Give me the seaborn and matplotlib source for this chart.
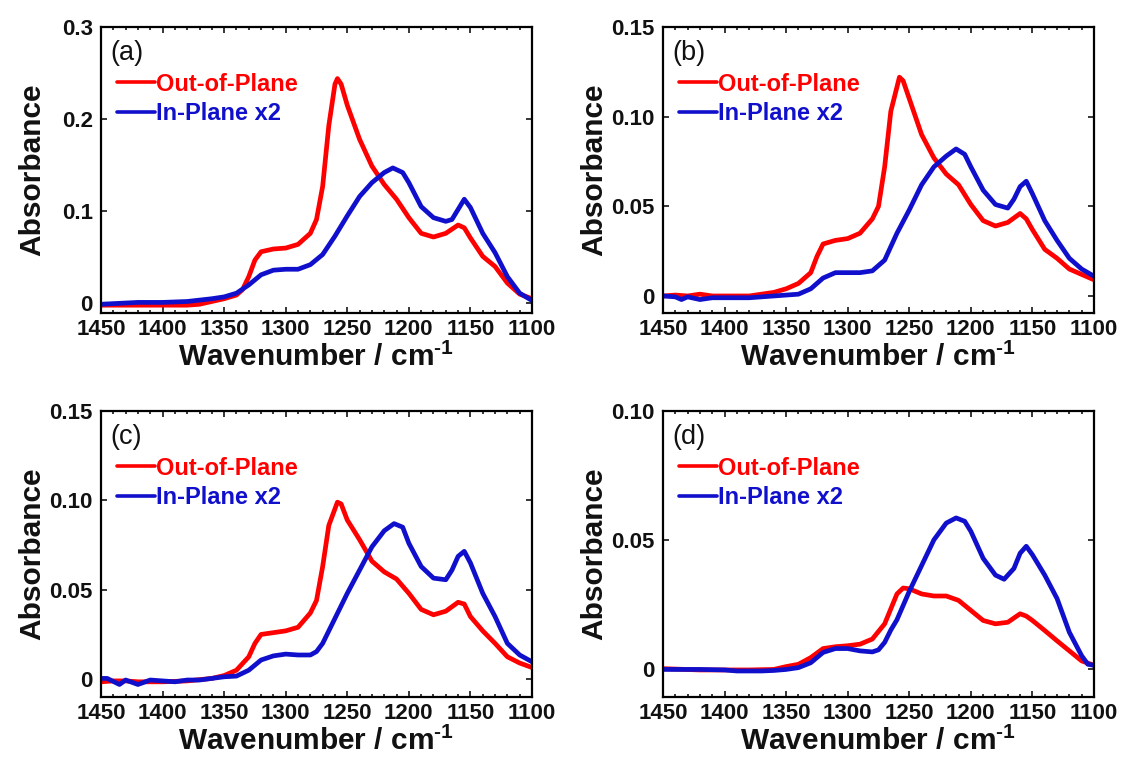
import matplotlib
matplotlib.use("Agg")
import matplotlib.pyplot as plt
from matplotlib.ticker import MultipleLocator
import pandas as pd
import seaborn as sns


# (a) out-of-plane / in-plane x2
wn_a_out = [1450, 1420, 1400, 1380, 1370, 1360, 1350, 1340, 1335, 1330, 1325, 1320, 1310, 1300, 1290, 1280,
            1275, 1270, 1265, 1260, 1258, 1255, 1250, 1240, 1230, 1220, 1210, 1200, 1190, 1180, 1170, 1160,
            1155, 1150, 1140, 1130, 1120, 1110, 1100]
abs_a_out = [-0.002, -0.002, -0.002, -0.002, -0.001, 0.002, 0.005, 0.009, 0.015, 0.029, 0.047, 0.056, 0.059,
             0.060, 0.064, 0.076, 0.091, 0.127, 0.193, 0.238, 0.244, 0.238, 0.215, 0.178, 0.149, 0.129, 0.113,
             0.093, 0.076, 0.072, 0.076, 0.085, 0.082, 0.071, 0.051, 0.040, 0.022, 0.010, 0.005]
wn_a_in = [1450, 1420, 1400, 1380, 1360, 1350, 1340, 1330, 1320, 1310, 1300, 1290, 1280, 1270, 1260, 1250,
           1240, 1230, 1220, 1213, 1205, 1200, 1190, 1180, 1170, 1165, 1160, 1155, 1150, 1140, 1130, 1120,
           1110, 1100]
abs_a_in = [-0.001, 0.001, 0.001, 0.002, 0.005, 0.007, 0.011, 0.020, 0.031, 0.036, 0.037, 0.037, 0.042, 0.053,
            0.073, 0.095, 0.116, 0.131, 0.142, 0.147, 0.142, 0.131, 0.105, 0.093, 0.089, 0.091, 0.102, 0.113,
            0.104, 0.076, 0.055, 0.029, 0.011, 0.003]

# (b)
wn_b_out = [1450, 1440, 1430, 1420, 1410, 1400, 1380, 1370, 1360, 1350, 1340, 1330, 1325, 1320, 1310, 1300,
            1290, 1280, 1275, 1270, 1265, 1258, 1255, 1250, 1240, 1230, 1220, 1210, 1200, 1190, 1180, 1170,
            1160, 1155, 1150, 1140, 1130, 1120, 1110, 1100]
abs_b_out = [0.0, 0.0005, 0.0, 0.001, 0.0, 0.0, 0.0, 0.001, 0.002, 0.004, 0.007, 0.013, 0.022, 0.029, 0.031,
             0.032, 0.035, 0.043, 0.050, 0.072, 0.103, 0.122, 0.120, 0.110, 0.090, 0.077, 0.068, 0.062, 0.051,
             0.042, 0.039, 0.041, 0.046, 0.043, 0.037, 0.026, 0.021, 0.015, 0.012, 0.009]
wn_b_in = [1450, 1440, 1435, 1430, 1420, 1410, 1400, 1380, 1360, 1350, 1340, 1330, 1320, 1310, 1300, 1290,
           1280, 1270, 1260, 1250, 1240, 1230, 1220, 1212, 1205, 1200, 1190, 1180, 1170, 1165, 1160, 1155,
           1150, 1140, 1130, 1120, 1110, 1100]
abs_b_in = [0.0, -0.0005, -0.002, -0.0005, -0.002, -0.001, -0.001, -0.001, 0.0, 0.0005, 0.001, 0.004, 0.010,
            0.013, 0.013, 0.013, 0.014, 0.020, 0.035, 0.048, 0.062, 0.072, 0.078, 0.082, 0.079, 0.072, 0.059,
            0.051, 0.049, 0.054, 0.061, 0.064, 0.057, 0.042, 0.031, 0.021, 0.015, 0.011]

# (c)
wn_c_out = [1450, 1440, 1430, 1420, 1400, 1380, 1360, 1350, 1340, 1330, 1325, 1320, 1310, 1300, 1290, 1280,
            1275, 1270, 1265, 1258, 1255, 1250, 1240, 1230, 1220, 1210, 1200, 1190, 1180, 1170, 1160, 1155,
            1150, 1140, 1130, 1120, 1110, 1100]
abs_c_out = [-0.0015, -0.001, -0.001, -0.0015, -0.0015, -0.001, 0.0004, 0.002, 0.005, 0.0125, 0.020, 0.025,
             0.026, 0.027, 0.029, 0.037, 0.044, 0.063, 0.086, 0.099, 0.098, 0.089, 0.078, 0.066, 0.060, 0.056,
             0.048, 0.039, 0.036, 0.038, 0.043, 0.042, 0.035, 0.027, 0.020, 0.0125, 0.009, 0.0065]
wn_c_in = [1450, 1445, 1435, 1430, 1420, 1410, 1400, 1390, 1380, 1370, 1360, 1350, 1340, 1330, 1320, 1310,
           1300, 1290, 1280, 1275, 1270, 1260, 1250, 1240, 1230, 1220, 1212, 1205, 1200, 1190, 1180, 1170,
           1165, 1160, 1155, 1150, 1140, 1130, 1120, 1110, 1100]
abs_c_in = [0.0004, 0.0004, -0.003, -0.0005, -0.003, -0.0005, -0.001, -0.0015, -0.0005, -0.0005, 0.0004,
            0.0013, 0.0017, 0.005, 0.0107, 0.013, 0.014, 0.0135, 0.0135, 0.0154, 0.020, 0.034, 0.048, 0.061,
            0.074, 0.083, 0.087, 0.085, 0.076, 0.063, 0.0565, 0.0556, 0.061, 0.0687, 0.0715, 0.065, 0.048,
            0.035, 0.020, 0.0135, 0.0097]

# (d)
wn_d_out = [1450, 1420, 1400, 1380, 1360, 1350, 1340, 1330, 1320, 1310, 1300, 1290, 1280, 1270, 1265, 1260,
            1255, 1250, 1240, 1230, 1220, 1210, 1200, 1190, 1180, 1170, 1160, 1155, 1150, 1140, 1130, 1120,
            1110, 1100]
abs_d_out = [0.0, -0.0005, -0.0005, -0.0005, -0.0003, 0.0008, 0.0017, 0.0043, 0.0078, 0.0085, 0.0089, 0.0095,
             0.0115, 0.0174, 0.0232, 0.029, 0.0313, 0.031, 0.029, 0.0282, 0.0282, 0.0265, 0.0226, 0.0187,
             0.0174, 0.018, 0.0213, 0.0204, 0.0187, 0.0148, 0.0108, 0.0069, 0.003, 0.0013]
wn_d_in = [1450, 1420, 1400, 1390, 1380, 1370, 1360, 1350, 1340, 1330, 1320, 1310, 1300, 1290, 1280, 1275,
           1270, 1265, 1260, 1250, 1240, 1230, 1220, 1212, 1205, 1200, 1190, 1180, 1173, 1165, 1160, 1155,
           1150, 1140, 1130, 1120, 1110, 1105, 1100]
abs_d_in = [-0.0003, -0.0003, -0.0005, -0.0009, -0.0009, -0.0009, -0.0007, -0.0003, 0.0004, 0.0023, 0.0063,
            0.0078, 0.0078, 0.0069, 0.0065, 0.0073, 0.0102, 0.015, 0.019, 0.030, 0.040, 0.050, 0.0565, 0.0585,
            0.0572, 0.0533, 0.0428, 0.0363, 0.0347, 0.0389, 0.0448, 0.0475, 0.0442, 0.0363, 0.0272, 0.0141,
            0.005, 0.0017, 0.0013]

series_names = ["Out-of-Plane", "In-Plane x2"]
panel_labels = ["(a)", "(b)", "(c)", "(d)"]
y_ticks = [[0, 0.1, 0.2, 0.3], [0, 0.05, 0.10, 0.15], [0, 0.05, 0.10, 0.15], [0, 0.05, 0.10]]
y_tick_labels = [["0", "0.1", "0.2", "0.3"], ["0", "0.05", "0.10", "0.15"],
                 ["0", "0.05", "0.10", "0.15"], ["0", "0.05", "0.10"]]
y_limits = [(-0.0105, 0.3), (-0.0095, 0.15), (-0.01, 0.15), (-0.011, 0.10)]
x_ticks = [1450, 1400, 1350, 1300, 1250, 1200, 1150, 1100]

panels = [
    (wn_a_out, abs_a_out, wn_a_in, abs_a_in),
    (wn_b_out, abs_b_out, wn_b_in, abs_b_in),
    (wn_c_out, abs_c_out, wn_c_in, abs_c_in),
    (wn_d_out, abs_d_out, wn_d_in, abs_d_in),
]

palette = {"Out-of-Plane": "#ff0000", "In-Plane x2": "#1010cc"}


def panel_frame(wn_out, a_out, wn_in, a_in):
    out_df = pd.DataFrame({"wavenumber": wn_out, "absorbance": a_out, "series": series_names[0]})
    in_df = pd.DataFrame({"wavenumber": wn_in, "absorbance": a_in, "series": series_names[1]})
    return pd.concat([out_df, in_df], ignore_index=True)


sns.set_theme(style="ticks")
plt.rcParams["font.family"] = ["Liberation Sans", "DejaVu Sans"]
plt.rcParams["mathtext.fontset"] = "custom"
plt.rcParams["mathtext.rm"] = "Liberation Sans:bold"
plt.rcParams["mathtext.bf"] = "Liberation Sans:bold"
plt.rcParams["mathtext.default"] = "bf"

fig = plt.figure(figsize=(11.22, 7.62), dpi=100)
W, H = 1122, 762
boxes = [(101, 27), (663, 27), (101, 411), (663, 411)]
ax_w, ax_h = 431, 286

for i, (left, top) in enumerate(boxes):
    ax = fig.add_axes([left / W, 1 - (top + ax_h) / H, ax_w / W, ax_h / H])
    df = panel_frame(*panels[i])
    sns.lineplot(data=df, x="wavenumber", y="absorbance", hue="series", palette=palette,
                 hue_order=series_names, estimator=None, linewidth=3.4, ax=ax, legend=False)
    for line in ax.get_lines():
        line.set_solid_joinstyle("round")
        line.set_solid_capstyle("round")

    ax.set_xlim(1450, 1100)
    ax.set_ylim(*y_limits[i])
    ax.set_xticks(x_ticks)
    ax.set_xticklabels([str(t) for t in x_ticks])
    ax.xaxis.set_minor_locator(MultipleLocator(10))
    ax.set_yticks(y_ticks[i])
    ax.set_yticklabels(y_tick_labels[i])
    ax.tick_params(which="both", direction="in", top=True, right=True, color="black", width=1.1)
    ax.tick_params(which="major", length=4.5)
    ax.tick_params(which="minor", length=2.3)
    ax.tick_params(axis="x", pad=4)
    ax.tick_params(axis="y", pad=6)
    for lab in ax.get_xticklabels() + ax.get_yticklabels():
        lab.set_fontsize(16)
        lab.set_fontweight("bold")
        lab.set_color("#111111")
    for sp in ax.spines.values():
        sp.set_linewidth(1.6)
        sp.set_color("black")

    ax.set_xlabel(r"Wavenumber / cm$^{\text{-1}}$", fontsize=21.5, fontweight="bold", color="#111111")
    ax.xaxis.set_label_coords(0.5, -0.105)
    ax.set_ylabel("Absorbance", fontsize=21.5, fontweight="bold", color="#111111", va="center")
    ax.yaxis.set_label_coords(-0.160, 0.5)

    ax.text(0.021, 0.955, panel_labels[i], transform=ax.transAxes, fontsize=19.5,
            va="top", ha="left", color="#111111")

    handles = [plt.Line2D([], [], color=palette[s], linewidth=2.6) for s in series_names]
    ax.legend(handles, series_names, loc="upper left", bbox_to_anchor=(0.037, 0.84),
              frameon=False, borderpad=0, borderaxespad=0, handlelength=1.6,
              handletextpad=0.05, labelspacing=0.28, labelcolor="linecolor",
              prop={"size": 17, "weight": "bold"})

fig.savefig("out.png", dpi=100)
